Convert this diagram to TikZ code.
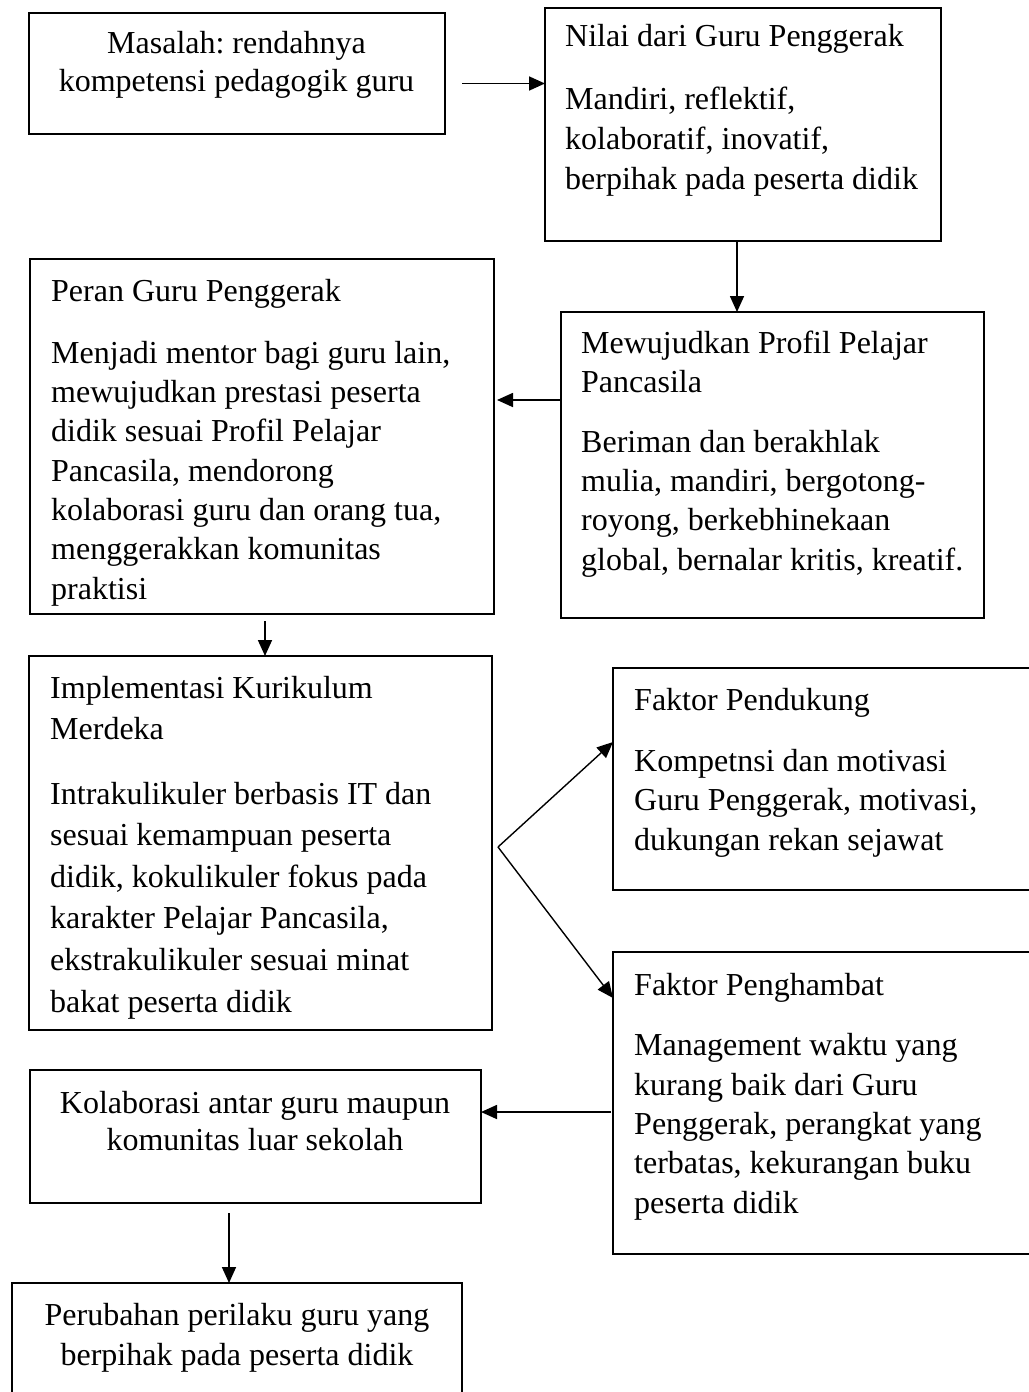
\documentclass[tikz,border=0pt]{standalone}
\usepackage{fontspec}
\setmainfont{Liberation Serif}
\usetikzlibrary{arrows.meta}
\frenchspacing
\begin{document}
\begin{tikzpicture}[x=1pt,y=-1pt,
  box/.style={draw, line width=2pt, anchor=north west, inner sep=0pt, outer sep=0pt},
  txt/.style={inner sep=0pt, font=\fontsize{32}{39.3}\selectfont, align=left, anchor=base west},
  ctxt/.style={inner sep=0pt, font=\fontsize{32}{38}\selectfont, align=center, anchor=base},
  arr/.style={line width=1.7pt, -{Triangle[length=16pt,width=14pt]}}]
\useasboundingbox (0,0) rectangle (1028,1392);
\fill[white] (0,0) rectangle (1028,1392);

% boxes
\node[box, minimum width=416pt, minimum height=121pt] (b1) at (28.5,12.7) {};
\node[box, minimum width=396pt, minimum height=233pt] (b2) at (545,8) {};
\node[box, minimum width=423pt, minimum height=306pt] (b3) at (561,312) {};
\node[box, minimum width=464pt, minimum height=355pt] (b4) at (30,259) {};
\node[box, minimum width=463pt, minimum height=374pt] (b5) at (29,656) {};
\node[box, minimum width=440pt, minimum height=222pt] (b6) at (613,668) {};
\node[box, minimum width=440pt, minimum height=302pt] (b7) at (613,952) {};
\node[box, minimum width=451pt, minimum height=133pt] (b8) at (30,1070) {};
\node[box, minimum width=450pt, minimum height=140pt] (b9) at (12,1283) {};

% texts (multi-line nodes are placed by the baseline of their last line)
\node[ctxt] (t1) at (236.5,91.5) {Masalah: rendahnya\\kompetensi pedagogik guru};

\node[txt] (t2a) at (565,46) {Nilai dari Guru Penggerak};
\node[txt, font=\fontsize{32}{40}\selectfont] (t2b) at (565,189) {Mandiri, reflektif,\\kolaboratif, inovatif,\\berpihak pada peserta didik};

\node[txt, font=\fontsize{32}{39.5}\selectfont] (t3a) at (581,392.5) {Mewujudkan Profil Pelajar\\Pancasila};
\node[txt] (t3b) at (581,570) {Beriman dan berakhlak\\mulia, mandiri, bergotong-\\royong, berkebhinekaan\\global, bernalar kritis, kreatif.};

\node[txt] (t4a) at (51,301) {Peran Guru Penggerak};
\node[txt] (t4b) at (51,599) {Menjadi mentor bagi guru lain,\\mewujudkan prestasi peserta\\didik sesuai Profil Pelajar\\Pancasila, mendorong\\kolaborasi guru dan orang tua,\\menggerakkan komunitas\\praktisi};

\node[txt, font=\fontsize{32}{41}\selectfont] (t5a) at (50,739) {Implementasi Kurikulum\\Merdeka};
\node[txt, font=\fontsize{32}{41.6}\selectfont] (t5b) at (50,1012) {Intrakulikuler berbasis IT dan\\sesuai kemampuan peserta\\didik, kokulikuler fokus pada\\karakter Pelajar Pancasila,\\ekstrakulikuler sesuai minat\\bakat peserta didik};

\node[txt] (t6a) at (634,710) {Faktor Pendukung};
\node[txt] (t6b) at (634,850) {Kompetnsi dan motivasi\\Guru Penggerak, motivasi,\\dukungan rekan sejawat};

\node[txt] (t7a) at (634,995) {Faktor Penghambat};
\node[txt] (t7b) at (634,1213) {Management waktu yang\\kurang baik dari Guru\\Penggerak, perangkat yang\\terbatas, kekurangan buku\\peserta didik};

\node[ctxt, font=\fontsize{32}{37.5}\selectfont] (t8) at (255,1150.5) {Kolaborasi antar guru maupun\\komunitas luar sekolah};

\node[ctxt, font=\fontsize{32}{40}\selectfont] (t9) at (237,1365) {Perubahan perilaku guru yang\\berpihak pada peserta didik};

% connectors
\coordinate (c1) at (462,83.5);
\draw[arr] (c1) -- (c1 -| b2.west);

\coordinate (c2) at (737,241);
\draw[arr] (c2 |- b2.south) -- (c2 |- b3.north);

\coordinate (c3) at (497,400);
\draw[arr] (c3 -| b3.west) -- (c3);

\coordinate (c4s) at (265,621);
\draw[arr] (c4s) -- (c4s |- b5.north);

\coordinate (fork) at (498,847);
\coordinate (c6) at (613,742);
\coordinate (c7) at (612,998);
\draw[arr, line width=1.4pt] (fork) -- (c6 -| b6.west);
\draw[arr, line width=1.4pt] (fork) -- (c7 -| b7.west);

\coordinate (c8) at (611,1112);
\draw[arr] (c8) -- (c8 -| b8.east);

\coordinate (c9s) at (229,1213);
\draw[arr] (c9s) -- (c9s |- b9.north);
\end{tikzpicture}
\end{document}
